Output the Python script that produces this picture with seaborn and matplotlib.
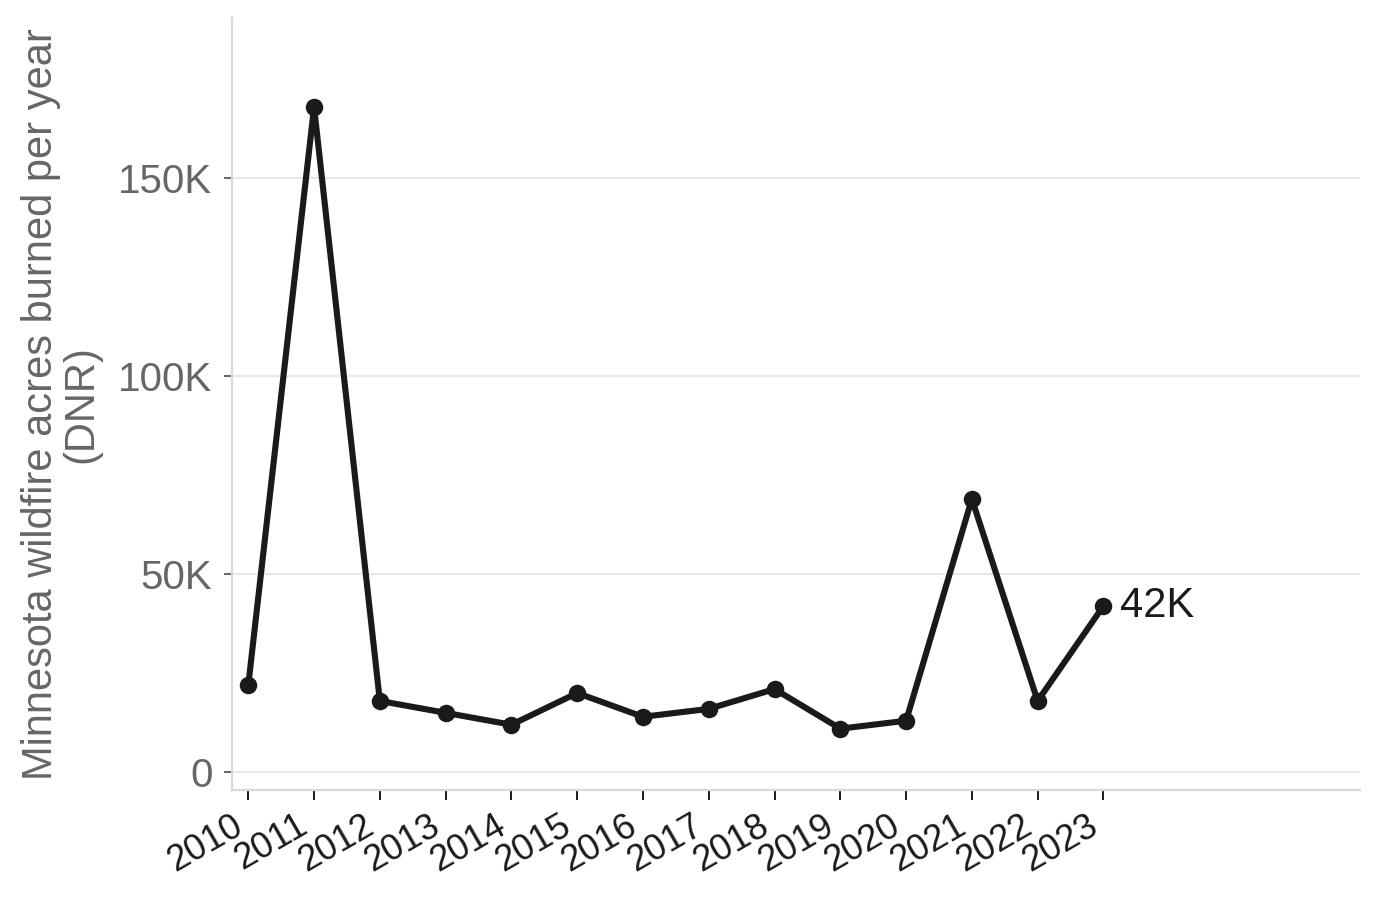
import matplotlib
matplotlib.use("Agg")
import matplotlib.pyplot as plt
import seaborn as sns
import pandas as pd
from matplotlib.ticker import FuncFormatter

years = [2010, 2011, 2012, 2013, 2014, 2015, 2016, 2017, 2018, 2019, 2020, 2021, 2022, 2023]
acres = [22000, 168000, 18000, 15000, 12000, 20000, 14000, 16000, 21000, 11000, 13000, 69000, 18000, 42000]
y_ticks = [0, 50000, 100000, 150000]
y_label = "Minnesota wildfire acres burned per year\n(DNR)"
end_label = "42K"

sns.set_theme(style="white")
plt.rcParams['font.family'] = ['Liberation Sans', 'DejaVu Sans']

df = pd.DataFrame({"year": years, "acres": acres})

fig = plt.figure(figsize=(6.9, 4.495), dpi=200)
ax = fig.add_axes([0.168, 0.1212, 0.8175, 0.8588])

ax.yaxis.grid(True, color="#e8e8e8", linewidth=0.8)
ax.set_axisbelow(True)

sns.lineplot(data=df, x="year", y="acres", ax=ax, color="#1a1a1a", linewidth=2.2,
             marker="o", markersize=6.3, markeredgewidth=0, zorder=3)

ax.set_xlim(2009.75, 2026.9)
ax.set_ylim(-4500, 190500)
ax.set_xticks(years)
ax.set_xticklabels([str(y) for y in years], rotation=30, ha="right",
                   fontsize=13, color="#1a1a1a")
ax.set_yticks(y_ticks)
ax.yaxis.set_major_formatter(FuncFormatter(lambda v, p: "0" if v == 0 else f"{int(v/1000)}K"))
ax.tick_params(axis="y", labelsize=14.5, labelcolor="#666666", length=3, width=0.7,
               color="#666666", pad=4, left=True)
ax.tick_params(axis="x", length=3.5, width=0.7, color="#1a1a1a", pad=3, bottom=True)

ax.set_xlabel("")
ax.set_ylabel(y_label, fontsize=15, color="#666666", linespacing=1.0, labelpad=6)

for s in ["top", "right"]:
    ax.spines[s].set_visible(False)
for s in ["left", "bottom"]:
    ax.spines[s].set_color("#d9d9d9")
    ax.spines[s].set_linewidth(0.8)

ax.annotate(end_label, xy=(years[-1], acres[-1]), xytext=(6, 0),
            textcoords="offset points", va="center", ha="left",
            fontsize=15, color="#1a1a1a")

fig.savefig("out.png", dpi=200)
